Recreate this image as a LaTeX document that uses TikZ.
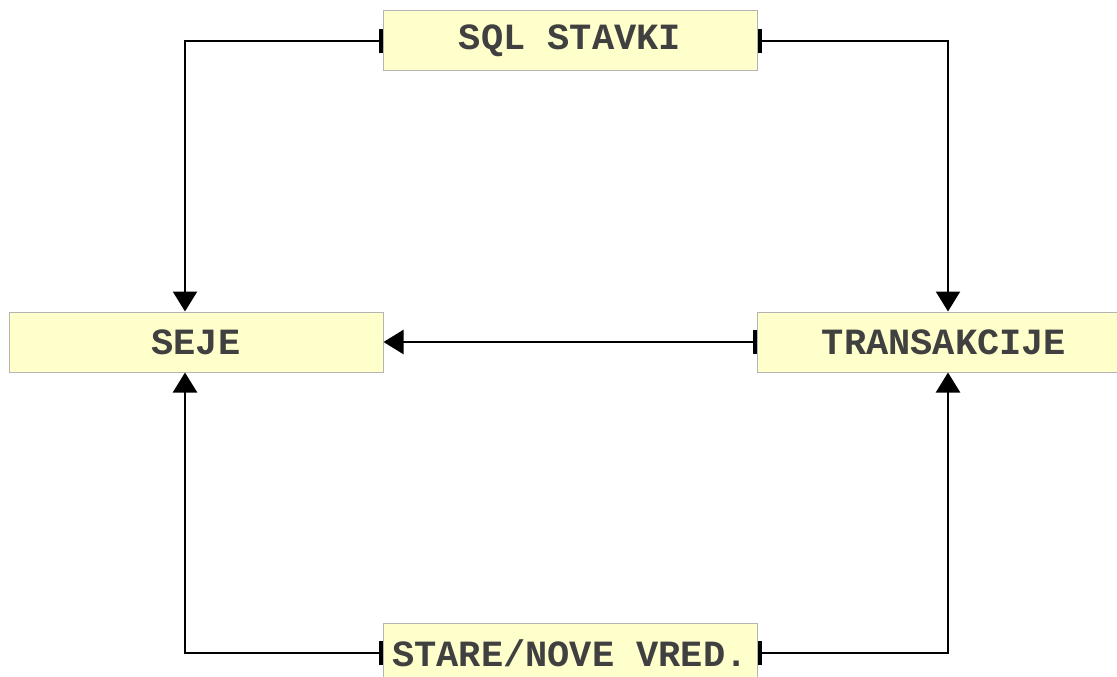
\documentclass[tikz,border=0pt]{standalone}
\usepackage{fontspec}
\setmonofont{Liberation Mono}
\usetikzlibrary{arrows.meta}
\definecolor{boxfill}{HTML}{FFFFCC}
\definecolor{boxline}{HTML}{B4B4B4}
\definecolor{labeltext}{HTML}{404040}
\tikzset{
  entity/.style={draw=boxline, line width=1pt, fill=boxfill,
    minimum width=374pt, minimum height=60pt, inner sep=0pt,
    text=labeltext, font=\fontsize{37}{40}\selectfont\ttfamily\bfseries},
  flow/.style={line width=2.3pt, black,
    {Bar[width=24pt,line width=4pt]}-{Triangle[width=24pt,length=20pt]}},
}
\begin{document}
\begin{tikzpicture}[x=1pt,y=-1pt]
  \useasboundingbox[fill=white] (0,0) rectangle (1117,677);
  \clip (0,0) rectangle (1117,677);

  \node[entity] (sql)   at (570,41)  {SQL STAVKI};
  \node[entity] (seje)  at (196,342) {SEJE};
  \node[entity] (trans) at (944,342) {TRANSAKCIJE};
  \node[entity] (stare) at (570,653) {STARE/NOVE VRED.};

  % vertical lanes on either side
  \coordinate (lcol) at (185,0);
  \coordinate (rcol) at (948,0);

  \draw[flow] (sql.west)   -| (seje.north  -| lcol);
  \draw[flow] (sql.east)   -| (trans.north -| rcol);
  \draw[flow] (trans.west) -- (seje.east);
  \draw[flow] (stare.west) -| (seje.south  -| lcol);
  \draw[flow] (stare.east) -| (trans.south -| rcol);
\end{tikzpicture}
\end{document}
